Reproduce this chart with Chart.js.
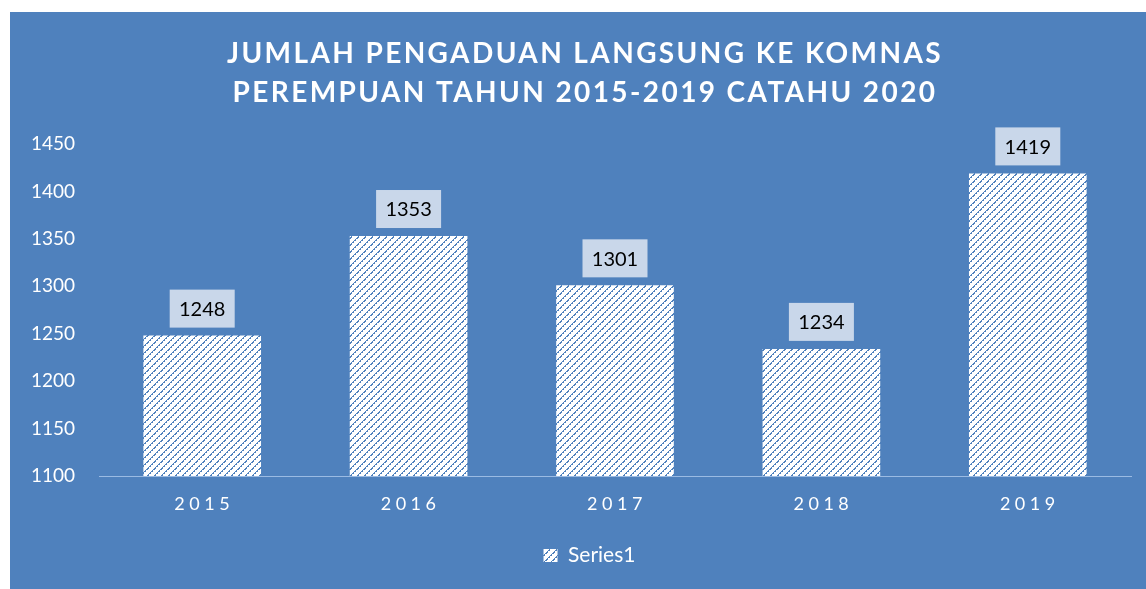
<!DOCTYPE html>
<html>
<head>
<meta charset="utf-8">
<script src="https://cdn.jsdelivr.net/npm/chart.js@4"></script>
<style>
  html, body { margin: 0; padding: 0; background: #ffffff; }
  #wrap { position: absolute; left: 0; top: 0; width: 1146px; height: 589px; }
</style>
</head>
<body>
<div id="wrap"><canvas id="chart" width="1146" height="589"></canvas></div>
<script>
// chart data
const years = ['2015', '2016', '2017', '2018', '2019'];
const complaints = [1248, 1353, 1301, 1234, 1419];
const titleLines = ['JUMLAH PENGADUAN LANGSUNG KE KOMNAS', 'PEREMPUAN TAHUN 2015-2019 CATAHU 2020'];
const seriesName = 'Series1';

const BLUE = '#4f81bd';

// hatched fill like the excel "wide upward diagonal" pattern
function makePattern() {
    const tile = document.createElement('canvas');
    tile.width = 7;
    tile.height = 7;
    const t = tile.getContext('2d');
    t.fillStyle = '#ffffff';
    t.fillRect(0, 0, 7, 7);
    t.fillStyle = '#4f81bd';
    for (let i = 0; i < 7; i++) {
        t.fillRect(i, 6 - i, 1, 1);
        if (i % 2 === 0) t.fillRect((i + 1) % 7, 6 - i, 1, 1);
    }
    return document.getElementById('chart').getContext('2d').createPattern(tile, 'repeat');
}

const backgroundPlugin = {
    id: 'panel',
    beforeDraw(chart) {
        const ctx = chart.ctx;
        ctx.save();
        ctx.fillStyle = BLUE;
        ctx.fillRect(10, 12, chart.width - 10, chart.height - 12);
        ctx.restore();
    }
};

// the excel legend sits a bit right of the canvas centre
const legendShift = {
    id: 'legendShift',
    afterLayout(chart) {
        chart.legend.left += 18;
        chart.legend.right += 18;
    }
};

const titlePlugin = {
    id: 'spacedTitle',
    afterDraw(chart) {
        const ctx = chart.ctx;
        ctx.save();
        ctx.fillStyle = '#ffffff';
        ctx.font = 'bold 28px Lato';
        ctx.letterSpacing = '2.4px';
        ctx.textAlign = 'center';
        ctx.textBaseline = 'alphabetic';
        ctx.fillText(titleLines[0], 585, 63);
        ctx.fillText(titleLines[1], 585, 102);
        ctx.restore();
    }
};

// x labels with letter spacing, positioned from the x scale
const xLabelPlugin = {
    id: 'xLabels',
    afterDraw(chart) {
        const ctx = chart.ctx;
        const x = chart.scales.x;
        ctx.save();
        ctx.fillStyle = '#ffffff';
        ctx.font = '18px Lato';
        ctx.letterSpacing = '4.5px';
        ctx.textAlign = 'center';
        ctx.textBaseline = 'middle';
        years.forEach((y, i) => {
            ctx.fillText(y, x.getPixelForValue(i) + 2, x.top + 28);
        });
        ctx.restore();
    }
};

const dataLabelPlugin = {
    id: 'boxLabels',
    afterDatasetsDraw(chart) {
        const ctx = chart.ctx;
        const meta = chart.getDatasetMeta(0);
        ctx.save();
        ctx.font = '20px Lato';
        ctx.textAlign = 'center';
        ctx.textBaseline = 'middle';
        meta.data.forEach((bar, i) => {
            const w = 65, h = 38;
            const bottom = bar.y - 8;
            ctx.fillStyle = '#c9d7ea';
            ctx.fillRect(bar.x - w / 2, bottom - h, w, h);
            ctx.fillStyle = '#000000';
            ctx.fillText(String(complaints[i]), bar.x, bottom - h / 2 + 1);
        });
        ctx.restore();
    }
};

const pattern = makePattern();

new Chart(document.getElementById('chart'), {
    type: 'bar',
    data: {
        labels: years,
        datasets: [{
            label: seriesName,
            data: complaints,
            backgroundColor: pattern,
            borderWidth: 0,
            categoryPercentage: 1,
            barPercentage: 0.57
        }]
    },
    options: {
        responsive: false,
        animation: false,
        layout: { padding: { top: 144, left: 12, right: 15, bottom: 13 } },
        plugins: {
            title: { display: false },
            tooltip: { enabled: false },
            legend: {
                display: true,
                position: 'bottom',
                labels: {
                    color: '#ffffff',
                    font: { family: 'Lato', size: 21 },
                    boxWidth: 14,
                    boxHeight: 13,
                    padding: 10
                }
            }
        },
        scales: {
            y: {
                min: 1100,
                max: 1450,
                ticks: {
                    stepSize: 50,
                    color: '#ffffff',
                    font: { family: 'Lato', size: 19 },
                    padding: 16,
                    callback: v => String(v)
                },
                grid: { display: false },
                border: { display: false },
                afterFit(scale) { scale.width = 87; }
            },
            x: {
                ticks: { color: 'transparent', font: { family: 'Lato', size: 18 } },
                grid: { display: false },
                border: { display: true, color: '#9bbbe3', width: 1 },
                afterFit(scale) { scale.height = 59; }
            }
        }
    },
    plugins: [backgroundPlugin, legendShift, titlePlugin, xLabelPlugin, dataLabelPlugin]
});
</script>
</body>
</html>
